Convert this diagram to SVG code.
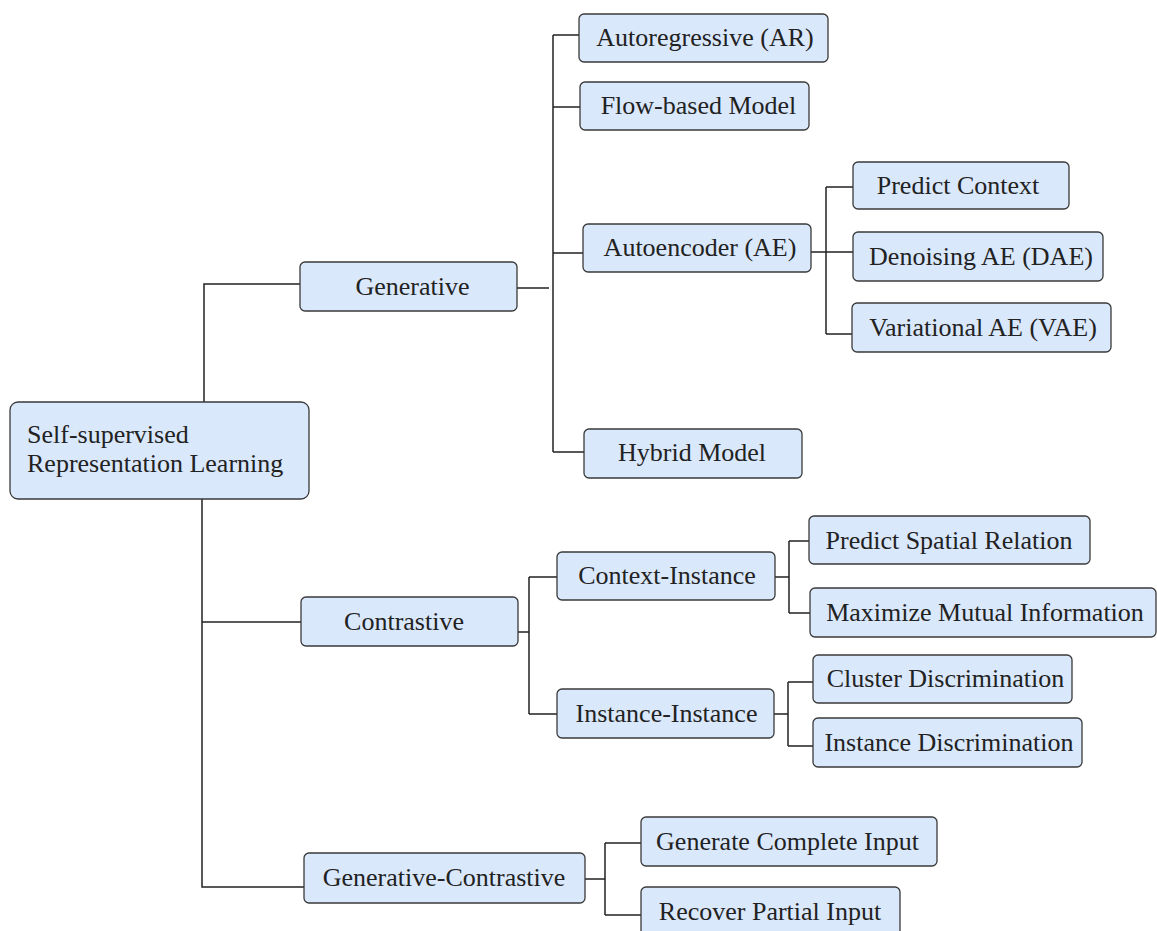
<svg xmlns="http://www.w3.org/2000/svg" width="1157" height="931" viewBox="0 0 1157 931">
<style>
.n rect{fill:#dae8fc;stroke:#3a3a3a;stroke-width:1.3}
.n text{font-family:"Liberation Serif","Times New Roman",serif;font-size:26px;fill:#222;text-anchor:middle}
#root text{text-anchor:start}
.c path{fill:none;stroke:#222;stroke-width:1.5}
</style>
<rect width="1157" height="931" fill="#ffffff"/>
<g class="c" id="connectors">
<path d="M204 402V284H300"/>
<path d="M202 499V887H304"/>
<path d="M202 622H301"/>
<path d="M517 288H549"/>
<path d="M553 35V452M553 35H579M553 107H580M553 253H583M553 452H584"/>
<path d="M811 252H826M826 187V334M826 187H853M826 252H853M826 334H852"/>
<path d="M518 632H529M529 577V714M529 577H557M529 714H557"/>
<path d="M775 577H789M789 541V613M789 541H809M789 613H810"/>
<path d="M774 714H788M788 682V746M788 682H813M788 746H813"/>
<path d="M585 879H605M605 843V915M605 843H641M605 915H641"/>
</g>
<g class="n" id="root"><rect x="10" y="402" width="299" height="97" rx="8"/><text x="27" y="443">Self-supervised</text><text x="27" y="472">Representation Learning</text></g>
<g class="n" id="generative"><rect x="300" y="262" width="217" height="49" rx="5"/><text x="412.5" y="295">Generative</text></g>
<g class="n" id="contrastive"><rect x="301" y="597" width="217" height="49" rx="5"/><text x="404" y="630">Contrastive</text></g>
<g class="n" id="gen-con"><rect x="304" y="853" width="281" height="50" rx="5"/><text x="444" y="886">Generative-Contrastive</text></g>
<g class="n" id="ar"><rect x="579" y="14" width="249" height="48" rx="5"/><text x="705" y="46">Autoregressive (AR)</text></g>
<g class="n" id="flow"><rect x="580" y="82" width="229" height="48" rx="5"/><text x="698.5" y="114">Flow-based Model</text></g>
<g class="n" id="ae"><rect x="583" y="224" width="228" height="48" rx="5"/><text x="700" y="256">Autoencoder (AE)</text></g>
<g class="n" id="hybrid"><rect x="584" y="429" width="218" height="49" rx="5"/><text x="692" y="461">Hybrid Model</text></g>
<g class="n" id="pc"><rect x="853" y="162" width="216" height="47" rx="5"/><text x="958" y="194">Predict Context</text></g>
<g class="n" id="dae"><rect x="853" y="232" width="250" height="49" rx="5"/><text x="981" y="265">Denoising AE (DAE)</text></g>
<g class="n" id="vae"><rect x="852" y="303" width="259" height="49" rx="5"/><text x="983" y="336">Variational AE (VAE)</text></g>
<g class="n" id="ci"><rect x="557" y="552" width="218" height="48" rx="5"/><text x="667" y="584">Context-Instance</text></g>
<g class="n" id="ii"><rect x="557" y="689" width="217" height="49" rx="5"/><text x="666.5" y="722">Instance-Instance</text></g>
<g class="n" id="psr"><rect x="809" y="516" width="281" height="48" rx="5"/><text x="949" y="549">Predict Spatial Relation</text></g>
<g class="n" id="mmi"><rect x="810" y="588" width="346" height="49" rx="5"/><text x="985" y="621">Maximize Mutual Information</text></g>
<g class="n" id="cd"><rect x="813" y="655" width="259" height="48" rx="5"/><text x="945.5" y="687">Cluster Discrimination</text></g>
<g class="n" id="id"><rect x="813" y="718" width="269" height="49" rx="5"/><text x="949" y="751">Instance Discrimination</text></g>
<g class="n" id="gci"><rect x="641" y="817" width="296" height="49" rx="5"/><text x="787.5" y="850">Generate Complete Input</text></g>
<g class="n" id="rpi"><rect x="641" y="887" width="259" height="56" rx="5"/><text x="770" y="920">Recover Partial Input</text></g>
</svg>
